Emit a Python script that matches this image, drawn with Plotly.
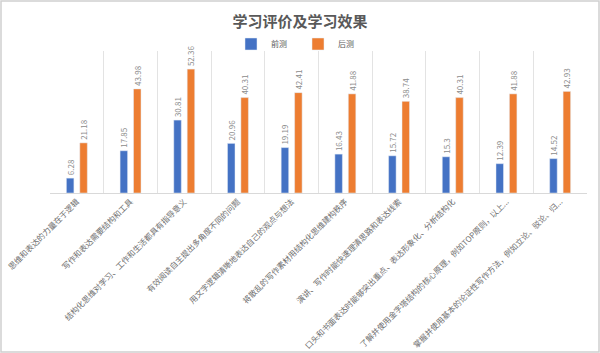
import plotly.graph_objects as go

categories = [
    "思维和表达的力量在于逻辑",
    "写作和表达需要结构和工具",
    "结构化思维对学习、工作和生活都具有指导意义",
    "有效阅读自主提出多角度不同的问题",
    "用文字逻辑清晰地表达自己的观点与想法",
    "将散乱的写作素材用结构化思维建构秩序",
    "演讲、写作时能快速理清思路和表达线索",
    "口头和书面表达时能够突出重点、表达形象化、分析结构化",
    "了解并使用金字塔结构的核心原理，例如TOP原则，以上...",
    "掌握并使用基本的论证性写作方法，例如立论、驳论、归...",
]
pre_values = [6.28, 17.85, 30.81, 20.96, 19.19, 16.43, 15.72, 15.3, 12.39, 14.52]
post_values = [21.18, 43.98, 52.36, 40.31, 42.41, 41.88, 38.74, 40.31, 41.88, 42.93]
series_names = ["前测", "后测"]
title_text = "学习评价及学习效果"

FONT = "Noto Sans CJK SC"
L, R, T, B = 50, 13, 51, 160
W, H = 600, 353
pw, ph = W - L - R, H - T - B

fig = go.Figure()
fig.add_trace(go.Bar(
    x=categories, y=pre_values, name=series_names[0],
    marker=dict(color="#4472C4"),
    text=[f"{v:g}" for v in pre_values], textposition="outside", textangle=-90,
    textfont=dict(size=8, color="#8c8c8c", family=FONT),
    constraintext="none", cliponaxis=False,
))
fig.add_trace(go.Bar(
    x=categories, y=post_values, name=series_names[1],
    marker=dict(color="#ED7D31"),
    text=[f"{v:g}" for v in post_values], textposition="outside", textangle=-90,
    textfont=dict(size=8, color="#8c8c8c", family=FONT),
    constraintext="none", cliponaxis=False,
))

# outer frame
fig.add_shape(type="rect", xref="paper", yref="paper",
              x0=(1 - L) / pw, x1=(W - 1 - L) / pw,
              y0=(H - B - (H - 1)) / ph, y1=(H - B - 1) / ph,
              line=dict(color="#d0d0d0", width=1.5), layer="below")

fig.update_layout(
    width=W, height=H,
    margin=dict(l=L, r=R, t=T, b=B, autoexpand=False),
    paper_bgcolor="white", plot_bgcolor="white",
    barmode="group", bargap=0.5, bargroupgap=0.44,
    title=dict(text=f"<b>{title_text}</b>", x=0.5, xanchor="center",
               y=1 - 22 / H, yanchor="middle", yref="container",
               font=dict(size=15, color="#595959", family=FONT)),
    legend=dict(orientation="h", x=(298 - L) / pw, xanchor="center",
                y=(H - B - 44) / ph, yanchor="middle",
                font=dict(size=8, color="#595959", family=FONT),
                itemwidth=30, entrywidth=22, entrywidthmode="pixels",
                bgcolor="rgba(0,0,0,0)"),
    font=dict(family=FONT),
    showlegend=True,
)
fig.update_xaxes(
    type="category", tickson="boundaries", showgrid=True, gridcolor="#e3e3e3",
    gridwidth=1, showline=True, linecolor="#d9d9d9", ticks="",
    tickangle=-45, tickfont=dict(size=8, color="#6e6e6e", family=FONT),
    automargin=False,
)
fig.update_yaxes(range=[0, 60], visible=False, showgrid=False, zeroline=False)

fig.write_html("out.html")
